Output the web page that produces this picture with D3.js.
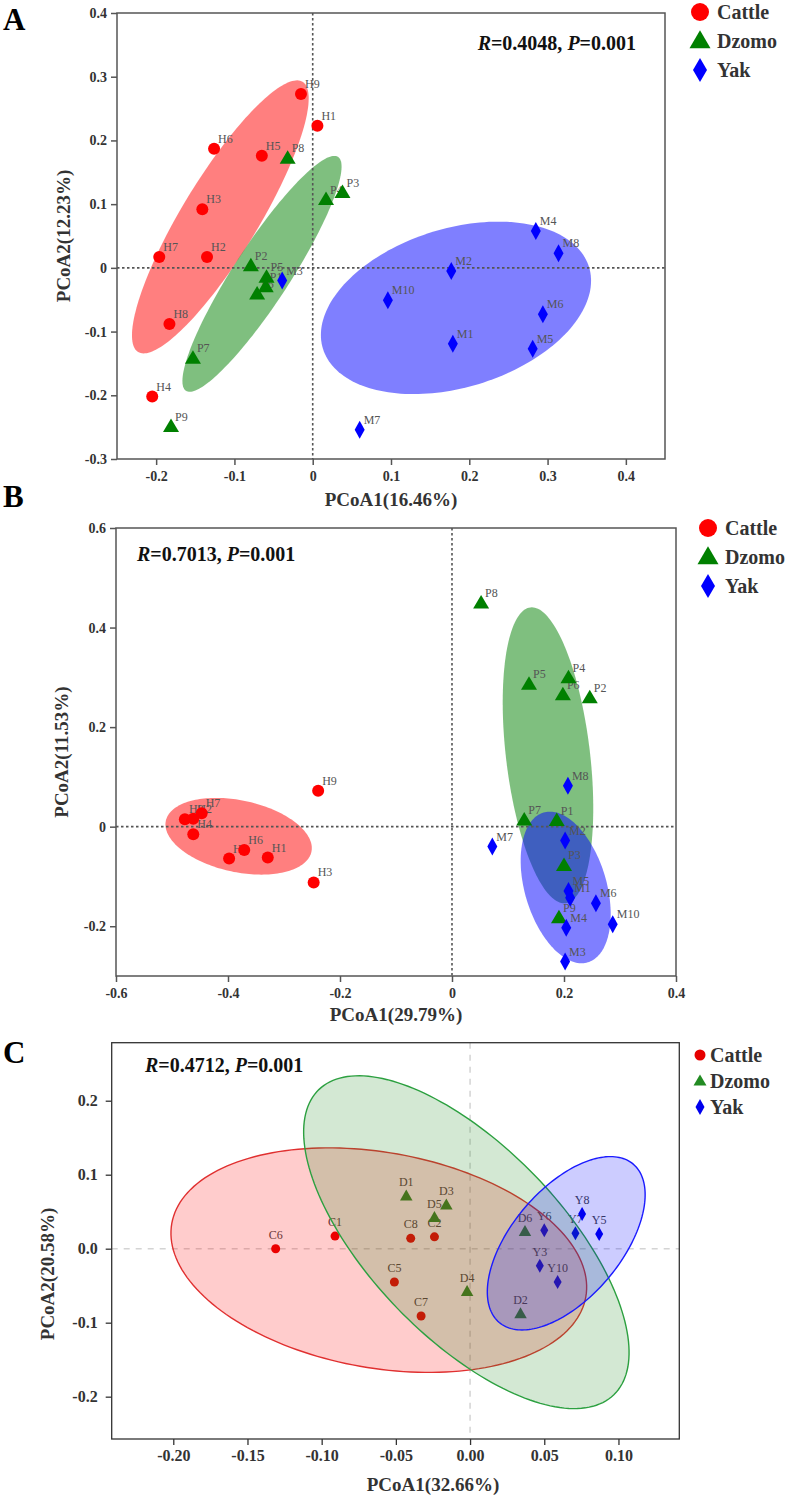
<!DOCTYPE html>
<html><head><meta charset="utf-8">
<script src="https://cdn.jsdelivr.net/npm/d3@7"></script>
<style>body{margin:0;background:#fff} svg{display:block}</style>
</head><body>
<svg id="chart" width="787" height="1500"></svg>
<script>
// ---------------- DATA ----------------
const groupNames = ["Cattle", "Dzomo", "Yak"];

// Panel A  [label, PCoA1, PCoA2]
const cattleA = [["H1",0.006,0.223],["H2",-0.135,0.017],["H3",-0.141,0.092],["H4",-0.205,-0.202],["H5",-0.065,0.176],["H6",-0.126,0.187],["H7",-0.196,0.017],["H8",-0.183,-0.088],["H9",-0.015,0.273]];
const dzomoA  = [["P1",-0.060,-0.030],["P2",-0.079,0.003],["P3",0.038,0.118],["P4",0.017,0.107],["P5",-0.059,-0.015],["P6",-0.071,-0.041],["P7",-0.153,-0.142],["P8",-0.032,0.172],["P9",-0.181,-0.249]];
const yakA    = [["M1",0.179,-0.119],["M2",0.177,-0.005],["M3",-0.039,-0.020],["M4",0.285,0.058],["M5",0.281,-0.127],["M6",0.294,-0.073],["M7",0.060,-0.254],["M8",0.314,0.023],["M10",0.096,-0.051]];
// ellipses: [cx, cy, major-axis vector x, y, minor-axis vector x, y] in data units
const ellCattleA = [-0.118, 0.080, 0.105, 0.212, 0.0414, -0.0311];
const ellDzomoA  = [-0.0648, -0.0094, 0.0971, 0.1836, 0.0301, -0.0240];
const ellYakA    = [0.183, -0.0628, 0.170, 0.0639, 0.0296, -0.1193];
const xTicksA = [-0.2,-0.1,0,0.1,0.2,0.3,0.4];
const xTickLabelsA = ["-0.2","-0.1","0","0.1","0.2","0.3","0.4"];
const yTicksA = [-0.3,-0.2,-0.1,0,0.1,0.2,0.3,0.4];
const yTickLabelsA = ["-0.3","-0.2","-0.1","0","0.1","0.2","0.3","0.4"];

// Panel B
const cattleB = [["H1",-0.329,-0.062],["H2",-0.462,0.016],["H3",-0.247,-0.112],["H4",-0.462,-0.015],["H5",-0.398,-0.064],["H6",-0.371,-0.047],["H7",-0.447,0.027],["H8",-0.477,0.015],["H9",-0.239,0.072]];
const dzomoB  = [["P1",0.187,0.012],["P2",0.246,0.259],["P3",0.200,-0.078],["P4",0.208,0.299],["P5",0.1375,0.286],["P6",0.198,0.265],["P7",0.129,0.013],["P8",0.052,0.449],["P9",0.191,-0.183]];
const yakB    = [["M1",0.211,-0.143],["M2",0.202,-0.028],["M3",0.202,-0.271],["M4",0.204,-0.203],["M5",0.208,-0.129],["M6",0.257,-0.154],["M7",0.072,-0.040],["M8",0.207,0.082],["M10",0.287,-0.196]];
const ellCattleB = [-0.381, -0.0193, 0.130, -0.0311, -0.0133, -0.0705];
const ellDzomoB  = [0.1714, 0.1434, -0.0314, 0.2971, 0.0745, 0.00996];
const ellYakB    = [0.203, -0.1221, -0.0395, 0.1505, 0.070, 0.0233];
const xTicksB = [-0.6,-0.4,-0.2,0,0.2,0.4];
const xTickLabelsB = ["-0.6","-0.4","-0.2","0","0.2","0.4"];
const yTicksB = [-0.2,0,0.2,0.4,0.6];
const yTickLabelsB = ["-0.2","0","0.2","0.4","0.6"];

// Panel C
const cattleC = [["C1",-0.091,0.017],["C2",-0.024,0.016],["C5",-0.051,-0.045],["C6",-0.131,0.000],["C7",-0.033,-0.091],["C8",-0.040,0.014]];
const dzomoC  = [["D1",-0.043,0.071],["D2",0.034,-0.088],["D3",-0.016,0.059],["D4",-0.002,-0.058],["D5",-0.024,0.042],["D6",0.037,0.023]];
const yakC    = [["Y3",0.047,-0.023],["Y5",0.087,0.020],["Y6",0.050,0.025],["Y7",0.071,0.021],["Y8",0.0755,0.047],["Y10",0.059,-0.045]];
const ellCattleC = [-0.0615, -0.0155, 0.1395, -0.0496, -0.01267, -0.1434];
const ellDzomoC  = [-0.0025, 0.0088, 0.0994, -0.2062, -0.0463, -0.0898];
const ellYakC    = [0.0648, 0.0073, 0.04515, 0.1070, 0.0281, -0.0477];
const xTicksC = [-0.20,-0.15,-0.10,-0.05,0,0.05,0.10];
const xTickLabelsC = ["-0.20","-0.15","-0.10","-0.05","0.00","0.05","0.10"];
const yTicksC = [-0.2,-0.1,0,0.1,0.2];
const yTickLabelsC = ["-0.2","-0.1","0.0","0.1","0.2"];

const statsA = ["0.4048","0.001"];
const statsB = ["0.7013","0.001"];
const statsC = ["0.4712","0.001"];

// ---------------- DRAWING ----------------
const svg = d3.select("#chart");
const serif = "'Liberation Serif','Times New Roman',Times,serif";

function shapePath(shape, s){
  if(shape==="circle"){ const r=s.r; return `M${-r},0A${r},${r} 0 1,0 ${r},0A${r},${r} 0 1,0 ${-r},0Z`; }
  if(shape==="triangle"){ const w=s.triW,h=s.triH; return `M0,${-h*0.6}L${w/2},${h*0.4}L${-w/2},${h*0.4}Z`; }
  const w=s.diaW,h=s.diaH; return `M0,${-h/2}L${w/2},0L0,${h/2}L${-w/2},0Z`;
}
function ellipsePts(e){
  const [cx,cy,ux,uy,vx,vy]=e;
  return d3.range(0,360,2).map(t=>{const r=t*Math.PI/180;return [cx+Math.cos(r)*ux+Math.sin(r)*vx, cy+Math.cos(r)*uy+Math.sin(r)*vy];});
}

function drawPanel(P){
  const x=d3.scaleLinear().domain(P.xDomain).range([P.left,P.right]);
  const y=d3.scaleLinear().domain(P.yDomain).range([P.bottom,P.top]);
  const g=svg.append("g");
  const line=d3.line().x(d=>x(d[0])).y(d=>y(d[1])).curve(d3.curveLinearClosed);

  const drawEllipses=()=>P.groups.forEach(gr=>{
    g.append("path").attr("d",line(ellipsePts(gr.ellipse)))
      .attr("fill",gr.ellFill).attr("fill-opacity",P.ellOpacity)
      .attr("stroke",P.ellStroke?gr.ellStroke:"none").attr("stroke-width",1.4);
  });
  const drawZero=()=>{
    g.append("line").attr("x1",x(0)).attr("x2",x(0)).attr("y1",P.top).attr("y2",P.bottom)
      .attr("stroke",P.zeroColor).attr("stroke-width",P.zeroWidth).attr("stroke-dasharray",P.zeroDash);
    g.append("line").attr("x1",P.left).attr("x2",P.right).attr("y1",y(0)).attr("y2",y(0))
      .attr("stroke",P.zeroColor).attr("stroke-width",P.zeroWidth).attr("stroke-dasharray",P.zeroDash);
  };
  const drawPoints=()=>{
    P.groups.forEach(gr=>{
      g.selectAll(null).data(gr.points).join("text")
        .attr("x",d=>x(d[1])+P.labelDx).attr("y",d=>y(d[2])+P.labelDy)
        .attr("text-anchor",P.labelAnchor)
        .attr("font-family",serif).attr("font-size",P.labelSize).attr("fill",P.labelColor)
        .text(d=>d[0]);
    });
    P.groups.forEach(gr=>{
      g.selectAll(null).data(gr.points).join("path")
        .attr("transform",d=>`translate(${x(d[1])},${y(d[2])})`)
        .attr("d",shapePath(gr.shape,P.marker)).attr("fill",gr.color);
    });
  };
  if(P.ellipsesBelow){ drawEllipses(); drawZero(); drawPoints(); }
  else { drawZero(); drawPoints(); drawEllipses(); }

  // frame
  g.append("rect").attr("x",P.left).attr("y",P.top).attr("width",P.right-P.left).attr("height",P.bottom-P.top)
    .attr("fill","none").attr("stroke",P.axisColor).attr("stroke-width",P.axisWidth);

  const ax=g.append("g").attr("transform",`translate(0,${P.bottom})`)
    .call(d3.axisBottom(x).tickValues(P.xTicks).tickFormat((d,i)=>P.xTickLabels[i]).tickSize(6).tickSizeOuter(0).tickPadding(P.tickPadX));
  const ay=g.append("g").attr("transform",`translate(${P.left},0)`)
    .call(d3.axisLeft(y).tickValues(P.yTicks).tickFormat((d,i)=>P.yTickLabels[i]).tickSize(6).tickSizeOuter(0).tickPadding(P.tickPadY));
  [ax,ay].forEach(a=>{
    a.select(".domain").remove();
    a.selectAll("line").attr("stroke",P.axisColor).attr("stroke-width",P.axisWidth);
    a.selectAll("text").attr("font-family",serif).attr("font-weight","bold").attr("font-size",P.tickFont).attr("fill","#333");
  });

  // axis titles
  g.append("text").attr("x",P.xTitleX).attr("y",P.xTitleY).attr("text-anchor","middle")
    .attr("font-family",serif).attr("font-weight","bold").attr("font-size",P.titleFont).attr("fill","#333").text(P.xTitle);
  g.append("text").attr("transform",`translate(${P.yTitleX},${P.yTitleY}) rotate(-90)`).attr("text-anchor","middle")
    .attr("font-family",serif).attr("font-weight","bold").attr("font-size",P.titleFont).attr("fill","#333").text(P.yTitle);

  // panel letter
  g.append("text").attr("x",3).attr("y",P.letterY).attr("font-family",serif).attr("font-weight","bold")
    .attr("font-size",31).attr("fill","#000").text(P.letter);

  // stats text
  const st=g.append("text").attr("x",P.statX).attr("y",P.statY).attr("text-anchor",P.statAnchor)
    .attr("font-family",serif).attr("font-weight","bold").attr("font-size",P.statFont).attr("fill","#111");
  st.append("tspan").attr("font-style","italic").text("R");
  st.append("tspan").text("="+P.stats[0]+", ");
  st.append("tspan").attr("font-style","italic").text("P");
  st.append("tspan").text("="+P.stats[1]);

  // legend
  P.groups.forEach((gr,i)=>{
    const ly=P.legY+i*P.legStep;
    g.append("path").attr("transform",`translate(${P.legX},${ly})`).attr("d",shapePath(gr.shape,P.legMarker)).attr("fill",gr.color);
    g.append("text").attr("x",P.legTextX).attr("y",ly+7).attr("font-family",serif).attr("font-weight","bold")
      .attr("font-size",20).attr("fill","#333").text(groupNames[i]);
  });
}

const bigMarker={r:6,triW:16,triH:13.5,diaW:10,diaH:18};
const bigLeg={r:9,triW:21,triH:18,diaW:14,diaH:24};

drawPanel({
  letter:"A", letterY:30,
  left:117,right:665,top:13,bottom:459, xDomain:[-0.25,0.45], yDomain:[-0.3,0.4],
  xTicks:xTicksA,xTickLabels:xTickLabelsA,yTicks:yTicksA,yTickLabels:yTickLabelsA,
  tickFont:14,tickPadX:6,tickPadY:4, axisColor:"#555",axisWidth:1.5,
  zeroColor:"#555",zeroWidth:1.6,zeroDash:"2.5,2.5",
  ellipsesBelow:true, ellOpacity:0.5, ellStroke:false,
  marker:bigMarker, labelDx:4,labelDy:-6,labelAnchor:"start",labelSize:12,labelColor:"#555",
  groups:[
    {shape:"circle",color:"#ff0000",ellFill:"#ff0000",points:cattleA,ellipse:ellCattleA},
    {shape:"triangle",color:"#008000",ellFill:"#008000",points:dzomoA,ellipse:ellDzomoA},
    {shape:"diamond",color:"#0000ff",ellFill:"#0000ff",points:yakA,ellipse:ellYakA}],
  xTitle:"PCoA1(16.46%)",xTitleX:391,xTitleY:506, yTitle:"PCoA2(12.23%)",yTitleX:70,yTitleY:236, titleFont:19,
  stats:statsA,statX:636,statY:50,statAnchor:"end",statFont:20,
  legX:700,legY:12,legStep:29,legTextX:717,legMarker:bigLeg
});

drawPanel({
  letter:"B", letterY:507,
  left:116,right:676,top:528,bottom:976, xDomain:[-0.6,0.4], yDomain:[-0.3,0.6],
  xTicks:xTicksB,xTickLabels:xTickLabelsB,yTicks:yTicksB,yTickLabels:yTickLabelsB,
  tickFont:14,tickPadX:6,tickPadY:4, axisColor:"#555",axisWidth:1.5,
  zeroColor:"#555",zeroWidth:1.6,zeroDash:"2.5,2.5",
  ellipsesBelow:true, ellOpacity:0.5, ellStroke:false,
  marker:bigMarker, labelDx:4,labelDy:-6,labelAnchor:"start",labelSize:12,labelColor:"#555",
  groups:[
    {shape:"circle",color:"#ff0000",ellFill:"#ff0000",points:cattleB,ellipse:ellCattleB},
    {shape:"triangle",color:"#008000",ellFill:"#008000",points:dzomoB,ellipse:ellDzomoB},
    {shape:"diamond",color:"#0000ff",ellFill:"#0000ff",points:yakB,ellipse:ellYakB}],
  xTitle:"PCoA1(29.79%)",xTitleX:396,xTitleY:1021, yTitle:"PCoA2(11.53%)",yTitleX:68,yTitleY:752, titleFont:19,
  stats:statsB,statX:137,statY:561,statAnchor:"start",statFont:20,
  legX:708,legY:528,legStep:29,legTextX:725,legMarker:bigLeg
});

drawPanel({
  letter:"C", letterY:1063,
  left:111.7,right:679.3,top:1042.7,bottom:1439, xDomain:[-0.2415,0.141], yDomain:[-0.2572,0.2784],
  xTicks:xTicksC,xTickLabels:xTickLabelsC,yTicks:yTicksC,yTickLabels:yTickLabelsC,
  tickFont:16,tickPadX:5,tickPadY:8, axisColor:"#333",axisWidth:1.3,
  zeroColor:"#d4d4d4",zeroWidth:1.5,zeroDash:"6,6",
  ellipsesBelow:false, ellOpacity:0.2, ellStroke:true,
  marker:{r:4.5,triW:12.5,triH:11,diaW:8,diaH:14}, labelDx:0,labelDy:-10,labelAnchor:"middle",labelSize:12,labelColor:"#444",
  groups:[
    {shape:"circle",color:"#e60000",ellFill:"#ff0000",ellStroke:"#e03030",points:cattleC,ellipse:ellCattleC},
    {shape:"triangle",color:"#228b22",ellFill:"#228b22",ellStroke:"#2ca040",points:dzomoC,ellipse:ellDzomoC},
    {shape:"diamond",color:"#0000ee",ellFill:"#0000ff",ellStroke:"#1a1aff",points:yakC,ellipse:ellYakC}],
  xTitle:"PCoA1(32.66%)",xTitleX:433,xTitleY:1491, yTitle:"PCoA2(20.58%)",yTitleX:54,yTitleY:1274, titleFont:19,
  stats:statsC,statX:145,statY:1072,statAnchor:"start",statFont:20,
  legX:700,legY:1055,legStep:26,legTextX:710,legMarker:{r:5.5,triW:13,triH:11,diaW:9,diaH:16}
});
</script>
</body></html>
